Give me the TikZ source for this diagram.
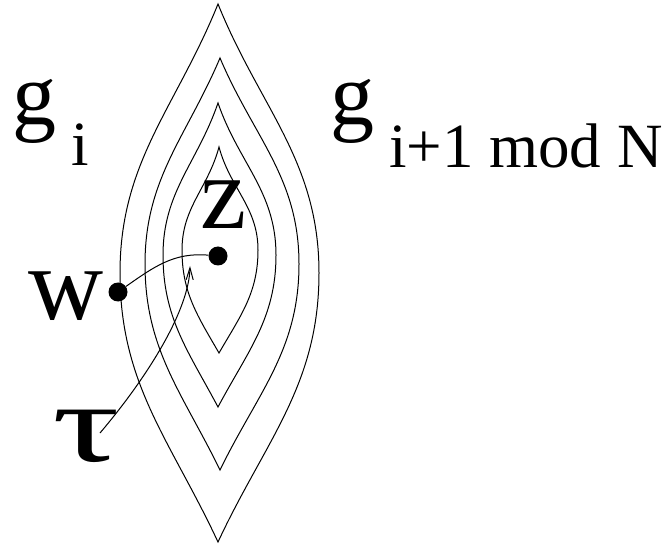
\documentclass[tikz,border=0pt]{standalone}
\usepackage{fontspec}
\usepackage{graphicx}
\setmainfont{Liberation Serif}
\usetikzlibrary{arrows.meta}

\begin{document}
\begin{tikzpicture}[
		x=1pt, y=1pt,
		lens/.style={line width=1pt},
		link/.style={line width=1pt},
		dot/.style={circle, fill=black, inner sep=0pt, minimum size=19pt},
		big/.style={inner sep=0pt, font=\fontsize{104}{104}\selectfont},
		glabel/.style={inner sep=0pt, anchor=base west, font=\fontsize{88}{88}\selectfont}
		]
		\useasboundingbox (0,0) rectangle (666,544);
		
		% nested lenses: tip x / top / bottom / left / right / middle / top angle / bottom angle
		\foreach \cx/\tp/\bt/\lf/\rt/\md/\ta/\ba in {218/540/2/120/319/271/22/25, 220/486/74/145/299/280/23/26, 218/441/137/163/276/289/19/28, 219/397/191/182/258/294/15/30}
		\draw[lens] (\cx,\tp) to[out=270-\ta, in=90] (\lf,\md) to[out=-90, in=90+\ba] (\cx,\bt)
			to[out=90-\ba, in=-90] (\rt,\md) to[out=90, in=270+\ta] cycle;
		
		\node[glabel] (gi) at (12,419) {g\hspace{15pt}\raisebox{-41pt}{\fontsize{63}{63}\selectfont i}};
		\node[glabel] (gnext) at (330,419) {g\hspace{15pt}\raisebox{-43pt}{\fontsize{63}{63}\selectfont i+1 mod N}};
		
		\node[dot] (w) at (118,252) {};
		\node[dot] (z) at (218,288) {};
		\node[big] (wlabel) at (66,248) {w};
		\node[big] (zlabel) at (224,339) {z};
		\node[big, font=\fontsize{112}{112}\selectfont] (tau) at (86,108) {\scalebox{1.5}[1]{τ}};
		
		\coordinate (taustart) at (100,111);
		\coordinate (tauend) at (190,278);
		
		\draw[link] (w) to[out=35, in=175] (z);
		\draw[link, -{Straight Barb[length=12pt, width=7pt]}] (taustart) .. controls (150,170) and (189,235) .. (tauend);
	\end{tikzpicture}
\end{document}
